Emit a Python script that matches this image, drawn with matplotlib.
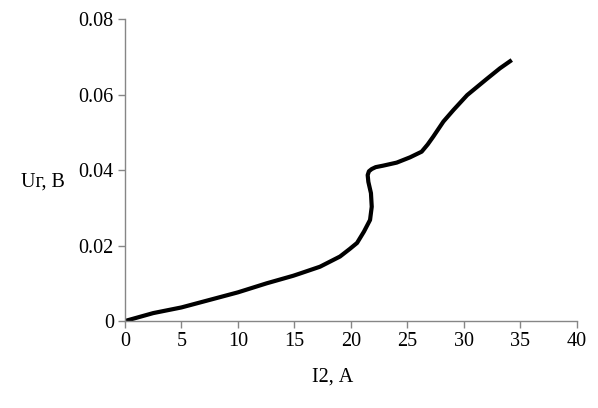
import matplotlib
matplotlib.use("Agg")
import matplotlib.pyplot as plt

i2 = [0.0, 2.5, 5.0, 7.5, 10.0, 12.55, 14.9, 15.5, 17.27, 19.04, 19.9, 20.55, 21.16, 21.7,
      21.85, 21.78, 21.55, 21.49, 21.6, 21.85, 22.2, 22.87, 24.06, 25.24, 26.27, 26.8,
      27.3, 28.2, 29.1, 30.3, 32.0, 33.2, 34.25]
ug = [0.0, 0.0021, 0.0036, 0.0056, 0.0076, 0.0100, 0.0120, 0.0126, 0.0144, 0.0171, 0.0191,
      0.0207, 0.0237, 0.0268, 0.0303, 0.0339, 0.0369, 0.0387, 0.0397, 0.0403, 0.0408,
      0.0412, 0.0420, 0.0434, 0.0449, 0.0468, 0.0489, 0.0529, 0.0560, 0.0599, 0.0641,
      0.0670, 0.0692]
xticks = [0, 5, 10, 15, 20, 25, 30, 35, 40]
yticks = [0, 0.02, 0.04, 0.06, 0.08]
ytick_labels = ["0", "0.02", "0.04", "0.06", "0.08"]

plt.rcParams['font.family'] = ['Liberation Serif', 'DejaVu Serif']
fig = plt.figure(figsize=(5.98, 4.08), dpi=100)
ax = fig.add_axes([0.209, 0.2132, 0.7554, 0.7395])
ax.plot(i2, ug, color='black', linewidth=3.0, solid_capstyle='butt', solid_joinstyle='round')
ax.set_xlim(0, 40)
ax.set_ylim(0, 0.08)
ax.set_xticks(xticks)
ax.set_xticklabels([str(t) for t in xticks])
ax.set_yticks(yticks)
ax.set_yticklabels(ytick_labels)
for s in ['top', 'right']:
    ax.spines[s].set_visible(False)
for s in ['left', 'bottom']:
    ax.spines[s].set_color('#868686')
    ax.spines[s].set_linewidth(1.0)
ax.tick_params(axis='both', colors='#868686', labelcolor='black', labelsize=14.5,
               length=5, width=1.0, direction='out', pad=3)
fig.text(0.072, 0.555, 'Uг, В', fontsize=14.5, ha='center', va='center')
fig.text(0.557, 0.075, 'I2, А', fontsize=14.5, ha='center', va='center')
fig.savefig('out.png', dpi=100)
